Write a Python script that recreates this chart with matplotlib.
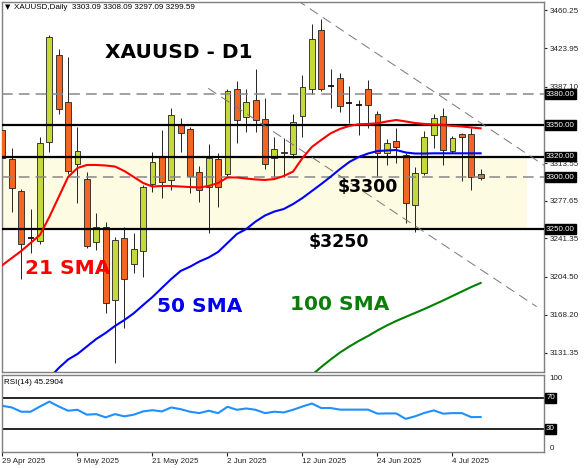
import numpy as np
import matplotlib.pyplot as plt
from matplotlib.patches import Rectangle
from matplotlib.transforms import blended_transform_factory

# --- data (bar index 0 = 29 Apr 2025) ---
opens = [3345.5, 3317.3, 3286.9, 3241.5, 3238.9, 3333.7, 3417.5, 3372.1, 3312.8, 3298.1,
         3237.6, 3252.1, 3182.2, 3242.1, 3216.8, 3229.3, 3293.4, 3319.9, 3297.5, 3351.3,
         3346.5, 3304.9, 3291.0, 3317.6, 3303.2, 3384.6, 3357.7, 3374.3, 3355.8, 3318.3,
         3324.7, 3322.4, 3358.9, 3384.9, 3441.5, 3388.0, 3395.1, 3371.1, 3369.5, 3384.6,
         3360.6, 3323.7, 3334.9, 3321.5, 3273.5, 3304.2, 3340.7, 3359.2, 3325.3, 3341.4,
         3341.6, 3303.09]
highs = [3348.0, 3328.5, 3288.5, 3269.6, 3338.5, 3436.5, 3423.0, 3415.3, 3348.1, 3305.5,
         3266.1, 3257.4, 3243.0, 3252.6, 3246.3, 3293.0, 3324.7, 3345.5, 3366.3, 3357.3,
         3348.1, 3310.9, 3331.8, 3323.1, 3384.5, 3392.6, 3384.9, 3403.8, 3375.9, 3338.5,
         3338.0, 3361.0, 3398.3, 3447.3, 3452.1, 3403.8, 3400.5, 3388.0, 3374.3, 3393.5,
         3364.0, 3337.0, 3347.1, 3323.5, 3310.3, 3345.0, 3360.6, 3366.3, 3340.0, 3343.0,
         3347.1, 3308.09]
lows = [3316.0, 3267.0, 3202.1, 3227.1, 3236.0, 3324.1, 3360.6, 3303.0, 3275.7, 3232.0,
        3230.0, 3169.5, 3121.5, 3155.1, 3207.9, 3204.6, 3286.2, 3279.9, 3287.9, 3324.7,
        3284.7, 3276.6, 3246.3, 3271.8, 3300.0, 3333.3, 3343.9, 3343.9, 3307.8, 3300.6,
        3300.0, 3318.3, 3339.1, 3380.1, 3383.0, 3366.3, 3363.1, 3351.9, 3340.7, 3347.1,
        3300.6, 3311.9, 3313.5, 3255.9, 3247.8, 3302.0, 3327.9, 3311.9, 3323.0, 3296.5,
        3287.9, 3297.09]
closes = [3318.3, 3289.5, 3236.0, 3241.5, 3332.7, 3435.1, 3365.7, 3306.4, 3325.6, 3234.4,
          3252.6, 3179.6, 3239.9, 3202.1, 3231.5, 3290.5, 3314.5, 3295.9, 3359.9, 3342.9,
          3301.3, 3287.9, 3318.3, 3291.0, 3382.9, 3355.1, 3372.7, 3355.1, 3312.8, 3326.9,
          3323.1, 3353.5, 3387.1, 3432.9, 3384.6, 3388.0, 3368.5, 3371.1, 3369.5, 3369.2,
          3323.1, 3332.7, 3328.8, 3275.1, 3303.9, 3339.1, 3357.3, 3326.3, 3337.5, 3338.5,
          3300.6, 3299.59]

sma21 = [3215.8, 3222.6, 3229.3, 3237.0, 3244.7, 3262.0, 3281.2, 3300.4, 3309.0, 3311.9,
         3311.9, 3311.4, 3310.4, 3306.1, 3300.4, 3294.6, 3291.2, 3291.7, 3291.7, 3291.2,
         3290.7, 3290.3, 3291.7, 3294.6, 3299.9, 3299.9, 3298.9, 3298.0, 3297.5, 3298.4,
         3301.3, 3305.6, 3318.6, 3329.2, 3335.9, 3342.3, 3346.5, 3349.4, 3351.0, 3351.3,
         3351.9, 3353.7, 3355.1, 3353.7, 3352.2, 3351.3, 3350.8, 3350.3, 3349.4, 3348.9,
         3347.9, 3347.1]
sma50_start = 5
sma50 = [3107.3, 3116.9, 3125.1, 3130.4, 3137.6, 3144.8, 3150.6, 3157.3, 3163.0, 3169.5,
         3177.4, 3185.1, 3193.8, 3202.4, 3210.1, 3214.2, 3219.2, 3223.1, 3228.4, 3237.0,
         3245.6, 3250.4, 3257.6, 3263.4, 3267.2, 3269.6, 3274.4, 3280.2, 3286.9, 3293.6,
         3300.6, 3308.0, 3314.8, 3319.6, 3322.9, 3325.3, 3325.8, 3326.3, 3323.9, 3322.9,
         3322.9, 3323.1, 3323.1, 3323.1, 3323.1, 3323.1, 3323.1]
sma100_start = 33
sma100 = [3110.2, 3117.9, 3125.1, 3131.8, 3137.6, 3142.9, 3147.7, 3153.0, 3157.8, 3162.1,
          3166.0, 3169.8, 3173.6, 3177.7, 3181.8, 3186.1, 3190.4, 3194.7, 3198.6]

rsi = [59.7, 57.6, 52.1, 52.1, 58.9, 65.2, 58.9, 53.4, 54.6, 48.3,
       49.0, 44.8, 49.0, 46.1, 48.3, 52.5, 54.1, 52.5, 57.6, 55.4,
       52.1, 50.3, 53.4, 50.3, 58.5, 54.6, 56.3, 54.6, 50.3, 52.1,
       51.2, 54.6, 58.9, 62.7, 56.9, 56.9, 54.8, 54.8, 54.8, 54.8,
       49.6, 49.9, 49.9, 42.9, 46.1, 50.6, 53.8, 49.6, 50.3, 50.3,
       45.1, 45.29]

tick_idx = [0, 8, 16, 24, 32, 40, 48]
tick_labels = ["29 Apr 2025", "9 May 2025", "21 May 2025", "2 Jun 2025",
               "12 Jun 2025", "24 Jun 2025", "4 Jul 2025"]

price_ticks = [3460.25, 3423.95, 3387.10, 3313.55, 3277.65, 3241.35, 3204.50, 3168.20, 3131.35]
solid_levels = [3350, 3320, 3250]
dashed_levels = [3380, 3300]
zone = (3250, 3320)
# trend lines: (bar index, price) pairs
trend1 = ([31.4, 57.8], [3470.3, 3311.4])
trend2 = ([21.95, 56.98], [3385.5, 3175.8])

bull = '#c6d93a'
bear = '#f26522'
spine_c = '#7f7f7f'
font = ['Liberation Sans', 'DejaVu Sans']

fig = plt.figure(figsize=(5.86, 4.68), dpi=100)
W, H = 586, 468
ax = fig.add_axes([2 / W, 1 - 372 / H, 542 / W, 370 / H])
axr = fig.add_axes([2 / W, 1 - 452 / H, 542 / W, 77.3 / H], sharex=ax)

n = len(opens)
x = np.arange(n)
xmax = (544 - 2.5) / 9.375
ax.set_xlim(-0.05, xmax)
ax.set_ylim(3113.1, 3468.4)

# support zone
ax.add_patch(Rectangle((-0.05, zone[0]), 55.95, zone[1] - zone[0],
                       facecolor='#fdfbe1', edgecolor='none', zorder=0))

# candles
for i in range(n):
    o, h, l, c = opens[i], highs[i], lows[i], closes[i]
    ax.vlines(i, l, h, color='#222222', lw=0.7, zorder=2)
    if abs(c - o) < 0.5:
        ax.hlines(o, i - 0.32, i + 0.32, color='black', lw=1.2, zorder=3)
    else:
        col = bull if c > o else bear
        ax.bar(i, c - o, bottom=o, width=0.62, color=col, edgecolor='#222222',
               linewidth=0.6, zorder=3)

# levels
for lv in solid_levels:
    ax.axhline(lv, color='black', lw=1.6, zorder=4)
for lv in dashed_levels:
    ax.axhline(lv, color='#888888', lw=1.1, ls=(0, (7, 4)), zorder=4)
ax.plot(*trend1, color='#777777', lw=0.7, ls=(0, (10, 6)), zorder=4)
ax.plot(*trend2, color='#777777', lw=0.7, ls=(0, (10, 6)), zorder=4)

# moving averages
ax.plot(x, sma21, color='#ff0000', lw=1.5, zorder=5)
ax.plot(x[sma50_start:], sma50, color='#0000ff', lw=1.5, zorder=5)
ax.plot(x[sma100_start:], sma100, color='#008000', lw=1.5, zorder=5)

# right price scale
ax.yaxis.tick_right()
ax.set_yticks(price_ticks)
ax.set_yticklabels([f'{v:.2f}' for v in price_ticks], fontfamily=font)
ax.tick_params(axis='y', length=2.5, pad=1.5, labelsize=5.8, colors='#222222')
ax.tick_params(axis='x', bottom=False, labelbottom=False)
trans = blended_transform_factory(ax.transAxes, ax.transData)
for lv in sorted(solid_levels + dashed_levels):
    ax.text(1.004, lv, f'{lv:.2f}', transform=trans, ha='left', va='center',
            color='white', fontsize=5.8, family=font, clip_on=False, zorder=10,
            bbox=dict(boxstyle='square,pad=0.18', fc='black', ec='black'))

# annotations
ax.text(10.9, 3414.6, 'XAUUSD - D1', fontsize=14.5, fontweight='bold',
        family='DejaVu Sans', color='black', zorder=6)
ax.text(35.7, 3286.2, '$3300', fontsize=12.5, fontweight='bold',
        family='DejaVu Sans', color='black', zorder=6)
ax.text(32.7, 3233.1, '$3250', fontsize=12.5, fontweight='bold',
        family='DejaVu Sans', color='black', zorder=6)
ax.text(2.4, 3207.2, '21 SMA', fontsize=14.5, fontweight='bold',
        family='DejaVu Sans', color='#ff0000', zorder=6)
ax.text(16.45, 3171.0, '50 SMA', fontsize=14.5, fontweight='bold',
        family='DejaVu Sans', color='#0000ee', zorder=6)
ax.text(30.67, 3172.6, '100 SMA', fontsize=14.5, fontweight='bold',
        family='DejaVu Sans', color='#0a7d0a', zorder=6)

fig.text(5 / W, 1 - 7.5 / H, '\u25bc', fontsize=5, family='DejaVu Sans',
         ha='left', va='center')
fig.text(14 / W, 1 - 7.5 / H, 'XAUUSD,Daily  3303.09 3308.09 3297.09 3299.59',
         fontsize=5.8, family=font, ha='left', va='center')

# RSI panel
axr.set_ylim(0, 100)
axr.plot(x, rsi, color='#1e90ff', lw=1.5)
axr.axhline(70, color='black', lw=1.2)
axr.axhline(30, color='black', lw=1.2)
axr.text(0.004, 90.3, 'RSI(14) 45.2904', transform=axr.get_yaxis_transform(which='grid')
         if False else blended_transform_factory(axr.transAxes, axr.transData),
         ha='left', va='center', fontsize=5.8, family=font)
axr.yaxis.tick_right()
axr.set_yticks([0, 100])
axr.set_yticklabels(['0', '100'], fontfamily=font)
labs = axr.get_yticklabels()
labs[0].set_va('bottom')
labs[1].set_va('top')
axr.tick_params(axis='y', length=0, pad=4, labelsize=5.8, colors='#222222')
transr = blended_transform_factory(axr.transAxes, axr.transData)
for lv in [70, 30]:
    axr.text(1.004, lv, f'{lv}', transform=transr, ha='left', va='center',
             color='white', fontsize=5.8, family=font, clip_on=False,
             bbox=dict(boxstyle='square,pad=0.18', fc='black', ec='black'))

axr.set_xticks(tick_idx)
axr.set_xticklabels(tick_labels, ha='left', fontfamily=font)
axr.tick_params(axis='x', length=3, pad=1.5, labelsize=5.8, colors='#222222')

for a in (ax, axr):
    for s in a.spines.values():
        s.set_color(spine_c)
        s.set_linewidth(1.0)

fig.savefig('out.png', dpi=100)
